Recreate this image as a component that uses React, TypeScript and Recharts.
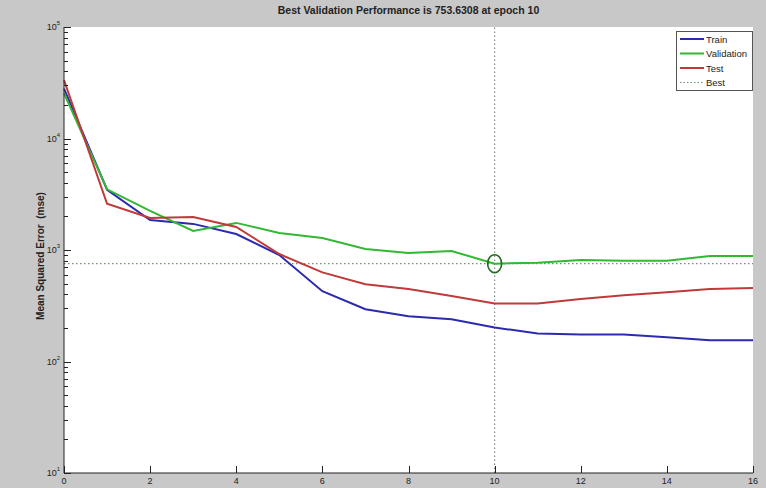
import React from "react";
import {
  LineChart,
  Line,
  XAxis,
  YAxis,
  ReferenceLine,
  ReferenceDot,
} from "recharts";

// ------------------------------------------------------------
// Neural net training — performance (mse) per epoch
// ------------------------------------------------------------

const epochs = [0, 1, 2, 3, 4, 5, 6, 7, 8, 9, 10, 11, 12, 13, 14, 15, 16];
const trainMse = [28000, 3470, 1860, 1715, 1390, 900, 427, 294, 254, 239, 202, 178, 175, 175, 165, 155, 155];
const validationMse = [25400, 3500, 2240, 1480, 1750, 1420, 1280, 1020, 940, 980, 753.6308, 770, 813, 800, 800, 884, 884];
const testMse = [33400, 2600, 1940, 1980, 1610, 920, 630, 494, 446, 386, 331, 331, 363, 393, 417, 446, 457];

const bestEpoch = 10;
const bestValue = 753.6308;
const titleText = "Best Validation Performance is 753.6308 at epoch 10";

const xTicks = [0, 2, 4, 6, 8, 10, 12, 14, 16];
const yDecades = [10, 100, 1000, 10000, 100000];
const yTicks: number[] = [];
yDecades.forEach((d, i) => {
  yTicks.push(d);
  if (i < yDecades.length - 1) {
    for (let k = 2; k <= 9; k++) yTicks.push(d * k);
  }
});

const data = epochs.map((e, i) => ({
  epoch: e,
  train: trainMse[i],
  validation: validationMse[i],
  test: testMse[i],
}));

const BG = "#c8c8c8";
const NARROW = "'Liberation Sans Narrow', 'Liberation Sans', Arial, sans-serif";
const SANS = "'Liberation Sans', Arial, sans-serif";

// plot box (matches chart margins below)
const PLOT = { left: 64, top: 27, right: 753, bottom: 473 };
const pxPerEpoch = (PLOT.right - PLOT.left) / 16;
const pxPerDecade = (PLOT.bottom - PLOT.top) / 4;

const isMajor = (v: number) => {
  const lg = Math.log10(v);
  return Math.abs(lg - Math.round(lg)) < 1e-6;
};

function YTick(props: any) {
  const { x, y, payload } = props;
  if (!isMajor(payload.value)) return <g />;
  const exp = Math.round(Math.log10(payload.value));
  return (
    <text x={x - 4} y={y + 3} textAnchor="end" fontSize={9} fontFamily={NARROW} fill="#222">
      10
      <tspan dy={-5} fontSize={6}>
        {exp}
      </tspan>
    </text>
  );
}

function XTick(props: any) {
  const { x, y, payload } = props;
  return (
    <text x={x} y={y + 11} textAnchor="middle" fontSize={9} fontFamily={NARROW} fill="#222">
      {payload.value}
    </text>
  );
}

// inward tick marks (MATLAB style), drawn as an overlay on the plot box
function TickMarks() {
  return (
    <svg
      width={766}
      height={488}
      style={{ position: "absolute", left: 0, top: 0, pointerEvents: "none" }}
    >
      {yTicks.map((v) => {
        const y = Math.round(PLOT.bottom - (Math.log10(v) - 1) * pxPerDecade) + 0.5;
        return (
          <line
            key={`y${v}`}
            x1={PLOT.left}
            x2={PLOT.left + (isMajor(v) ? 7 : 4)}
            y1={y}
            y2={y}
            stroke="#222"
            strokeWidth={1}
          />
        );
      })}
      {xTicks.map((t) => {
        const x = Math.round(PLOT.left + t * pxPerEpoch) + 0.5;
        return (
          <line key={`x${t}`} x1={x} x2={x} y1={PLOT.bottom} y2={PLOT.bottom - 7} stroke="#222" strokeWidth={1} />
        );
      })}
    </svg>
  );
}

const legendItems = [
  { label: "Train", color: "#2b2bb0", dash: undefined },
  { label: "Validation", color: "#33b833", dash: undefined },
  { label: "Test", color: "#c03a3a", dash: undefined },
  { label: "Best", color: "#6f8f6f", dash: "1.5 2" },
];

function LegendBox() {
  return (
    <svg width={77} height={60} style={{ display: "block" }}>
      <rect x={0.5} y={0.5} width={76} height={59} fill="#fff" stroke="#555" />
      {legendItems.map((it, i) => (
        <g key={it.label}>
          <line
            x1={4}
            x2={28}
            y1={8 + i * 14.5}
            y2={8 + i * 14.5}
            stroke={it.color}
            strokeWidth={it.dash ? 1 : 2}
            strokeDasharray={it.dash}
          />
          <text x={30} y={11.5 + i * 14.5} fontSize={9.5} fontFamily={NARROW} fill="#222">
            {it.label}
          </text>
        </g>
      ))}
    </svg>
  );
}

function BestMarker(props: any) {
  const { cx, cy } = props;
  return <ellipse cx={cx} cy={cy} rx={7} ry={9} fill="none" stroke="#1f6b1f" strokeWidth={1.6} />;
}

export default function App() {
  return (
    <div style={{ position: "fixed", left: 0, top: 0, width: 766, height: 488, background: BG }}>
      <div
        style={{
          position: "absolute",
          left: PLOT.left,
          top: PLOT.top,
          width: PLOT.right - PLOT.left,
          height: PLOT.bottom - PLOT.top,
          background: "#fff",
        }}
      />
      <div
        style={{
          position: "absolute",
          left: 64,
          width: 689,
          top: 4,
          textAlign: "center",
          fontFamily: SANS,
          fontWeight: "bold",
          fontSize: 10.5,
          color: "#222",
        }}
      >
        {titleText}
      </div>
      <div
        style={{
          position: "absolute",
          left: 40,
          top: 256,
          transform: "translate(-50%, -50%) rotate(-90deg)",
          whiteSpace: "nowrap",
          fontFamily: SANS,
          fontWeight: "bold",
          fontSize: 10,
          color: "#222",
        }}
      >
        Mean Squared Error&nbsp;&nbsp;(mse)
      </div>
      <div style={{ position: "absolute", left: 0, top: 0 }}>
        <LineChart
          width={766}
          height={488}
          data={data}
          margin={{ top: PLOT.top, right: 766 - PLOT.right, bottom: 0, left: 0 }}
        >
          <XAxis
            dataKey="epoch"
            type="number"
            domain={[0, 16]}
            ticks={xTicks}
            interval={0}
            height={488 - PLOT.bottom}
            tickSize={0}
            tickMargin={0}
            tick={<XTick />}
            axisLine={{ stroke: "#222" }}
          />
          <YAxis
            type="number"
            scale="log"
            domain={[10, 100000]}
            allowDataOverflow
            ticks={yTicks}
            interval={0}
            width={PLOT.left}
            tickSize={0}
            tickMargin={0}
            tick={<YTick />}
            axisLine={{ stroke: "#222" }}
          />
          <ReferenceLine y={bestValue} stroke="#6f8f6f" strokeWidth={1.2} strokeDasharray="1.5 2.5" />
          <ReferenceLine x={bestEpoch} stroke="#8a8a8a" strokeWidth={1.2} strokeDasharray="1.5 2.5" />
          <Line dataKey="train" stroke="#2b2bb0" strokeWidth={2} dot={false} isAnimationActive={false} />
          <Line dataKey="validation" stroke="#33b833" strokeWidth={2} dot={false} isAnimationActive={false} />
          <Line dataKey="test" stroke="#c03a3a" strokeWidth={2} dot={false} isAnimationActive={false} />
          <ReferenceDot x={bestEpoch} y={bestValue} r={8} shape={<BestMarker />} />
        </LineChart>
      </div>
      <TickMarks />
      <div style={{ position: "absolute", left: 676, top: 31 }}>
        <LegendBox />
      </div>
    </div>
  );
}
